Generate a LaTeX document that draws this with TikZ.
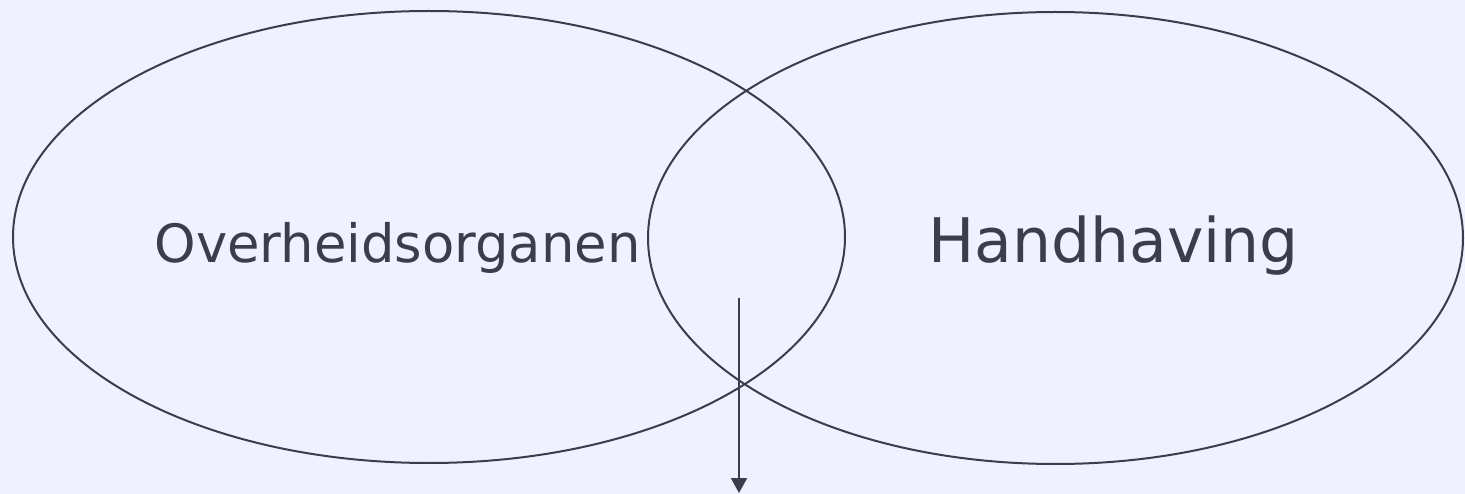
\documentclass[tikz,border=0pt]{standalone}
\usepackage{fontspec}
\setmainfont{DejaVu Sans}
\usetikzlibrary{shapes.geometric,arrows.meta}
\definecolor{bg}{RGB}{240,240,255}
\definecolor{ink}{RGB}{60,60,74}
\tikzset{
  venn/.style={ellipse, draw=ink, line width=2pt, inner sep=0pt},
  lbl/.style={text=ink, inner sep=0pt, anchor=base},
  conn/.style={draw=ink, line width=2pt, -{Triangle[width=16pt,length=15pt]}}
}
\begin{document}
\begin{tikzpicture}[x=1pt,y=-1pt]
\fill[bg] (0,0) rectangle (1465,494);
\useasboundingbox (0,0) rectangle (1465,494);
\node[venn, minimum width=832pt, minimum height=452pt] (left) at (429,237) {};
\node[venn, minimum width=815pt, minimum height=452pt] (right) at (1055.5,238) {};
\node[lbl, font=\fontsize{52.8}{60}\selectfont] (t1) at (397.5,263) {Overheidsorganen};
\node[lbl, font=\fontsize{61.5}{70}\selectfont] (t2) at (1113.5,263) {Handhaving};
\coordinate (a0) at (739,298);
\coordinate (a1) at (739,493);
\draw[conn] (a0) -- (a1);
\end{tikzpicture}
\end{document}
